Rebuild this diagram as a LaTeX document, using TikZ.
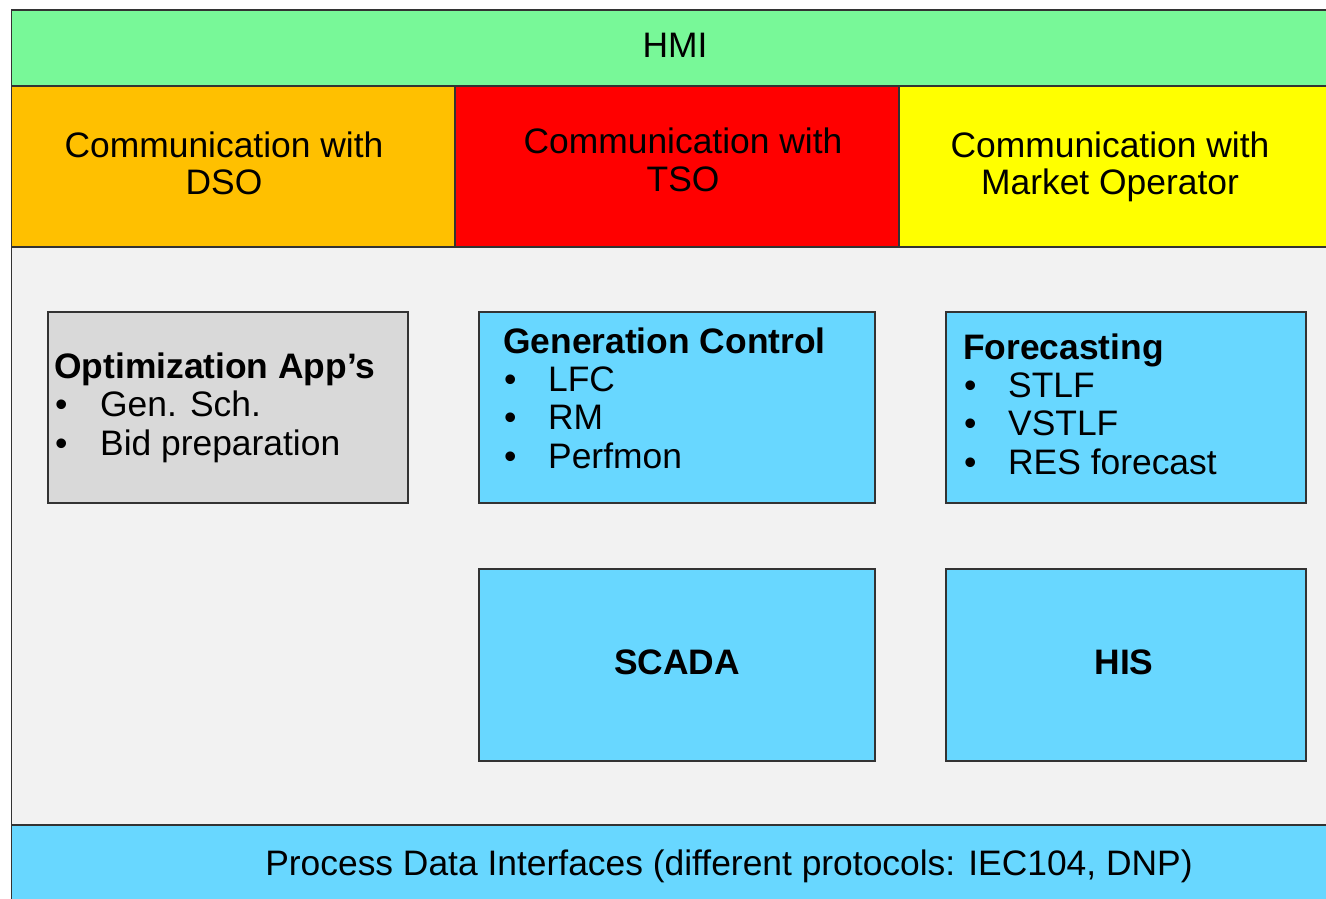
\documentclass[tikz,border=0pt]{standalone}
\usepackage{fontspec}
\setmainfont{Liberation Sans}
\definecolor{hmigreen}{HTML}{78F898}
\definecolor{dsoorange}{HTML}{FFC000}
\definecolor{tsored}{HTML}{FF0000}
\definecolor{mkyellow}{HTML}{FFFF00}
\definecolor{bodygray}{HTML}{F2F2F2}
\definecolor{optgray}{HTML}{D9D9D9}
\definecolor{appblue}{HTML}{68D7FF}
\definecolor{edge}{HTML}{333333}
\begin{document}
\begin{tikzpicture}[x=1pt,y=-1pt,
  box/.style={draw=edge, line width=1.6pt, inner sep=0pt, anchor=north west},
  lbl/.style={font=\fontsize{35.4}{38.5}\selectfont, inner sep=0pt, text=black},
  bld/.style={lbl, font=\fontsize{35.4}{38.5}\selectfont\bfseries},
  bul/.style={lbl, anchor=base west}]
\useasboundingbox (0,0) rectangle (1326,898);
\fill[white] (0,0) rectangle (1326,898);
% bands
\node[box, fill=bodygray, minimum width=1340pt, minimum height=578pt] (body) at (10.5,246) {};
\node[box, fill=hmigreen, minimum width=1340pt, minimum height=76pt] (hmi) at (10.5,9) {};
\node[box, fill=dsoorange, minimum width=443.5pt, minimum height=161pt] (dso) at (10.5,85) {};
\node[box, fill=tsored, minimum width=444pt, minimum height=161pt] (tso) at (454,85) {};
\node[box, fill=mkyellow, minimum width=460pt, minimum height=161pt] (mo) at (898,85) {};
\node[box, fill=appblue, minimum width=1340pt, minimum height=100pt] (pdi) at (10.5,824) {};
% inner boxes
\node[box, fill=optgray, minimum width=360pt, minimum height=191pt] (opt) at (47,311) {};
\node[box, fill=appblue, minimum width=396pt, minimum height=191pt] (gen) at (478,311) {};
\node[box, fill=appblue, minimum width=360pt, minimum height=191pt] (fore) at (945,311) {};
\node[box, fill=appblue, minimum width=396pt, minimum height=192pt] (scada) at (478,568) {};
\node[box, fill=appblue, minimum width=360pt, minimum height=192pt] (his) at (945,568) {};
% band texts
\node[lbl, anchor=base] (hmi-t) at (675,57.5) {HMI};
\node[lbl, anchor=base] (dso-1) at (224,157) {Communication with};
\node[lbl, anchor=base] (dso-2) at (224,194.5) {DSO};
\node[lbl, anchor=base] (tso-1) at (683,153.5) {Communication with};
\node[lbl, anchor=base] (tso-2) at (683,191.5) {TSO};
\node[lbl, anchor=base] (mo-1) at (1110,157) {Communication with};
\node[lbl, anchor=base] (mo-2) at (1110,194.5) {Market Operator};
\node[lbl, anchor=base] (pdi-t) at (729,875.5) {Process Data Interfaces (different protocols: IEC104, DNP)};
% optimization
\node[bld, anchor=base west] (opt-t) at (54,378) {Optimization App’s};
\node[bul] (opt-1) at (55,416.5) {\makebox[45pt][l]{•}Gen. Sch.};
\node[bul] (opt-2) at (55,455) {\makebox[45pt][l]{•}Bid preparation};
% generation control
\node[bld, anchor=base west] (gen-t) at (503,353) {Generation Control};
\node[bul] (gen-1) at (504,391) {\makebox[44pt][l]{•}LFC};
\node[bul] (gen-2) at (504,429.5) {\makebox[44pt][l]{•}RM};
\node[bul] (gen-3) at (504,468) {\makebox[44pt][l]{•}Perfmon};
% forecasting
\node[bld, anchor=base west] (fore-t) at (963,359) {Forecasting};
\node[bul] (fore-1) at (964,397) {\makebox[44pt][l]{•}STLF};
\node[bul] (fore-2) at (964,435.5) {\makebox[44pt][l]{•}VSTLF};
\node[bul] (fore-3) at (964,474) {\makebox[44pt][l]{•}RES forecast};
% scada, his
\node[bld, anchor=base] (scada-t) at (677,674.5) {SCADA};
\node[bld, anchor=base] (his-t) at (1124,674.5) {HIS};
\end{tikzpicture}
\end{document}
